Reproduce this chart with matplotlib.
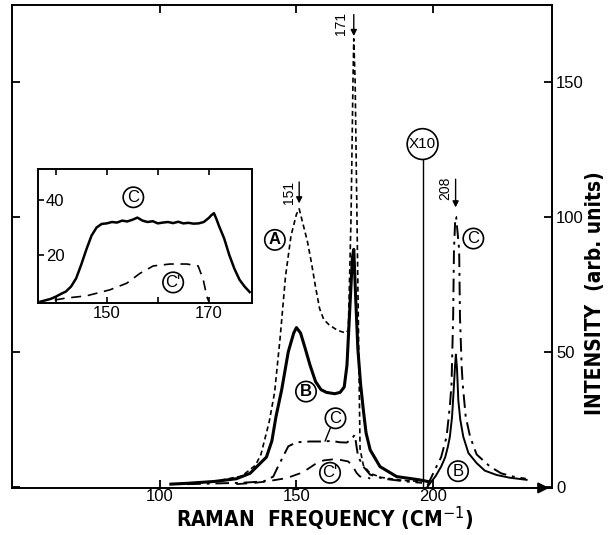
# -*- coding: utf-8 -*-
# Raman spectra A, B, C, C' with x10 region and inset
import matplotlib
matplotlib.use("Agg")
import matplotlib.pyplot as plt
from matplotlib import font_manager as fm

plt.rcParams['font.family'] = ['Liberation Sans', 'DejaVu Sans']

# curve A (dashed), main region
freq_A = [104, 120, 130, 135, 137, 140, 142, 144, 146, 148, 150, 151, 152, 154, 155.5, 157,
          158.5, 160, 162, 165, 168, 169, 170, 170.7, 171, 171.5, 172.3, 173.3, 174.5, 177,
          181, 188, 195]
int_A = [1, 2, 4, 8, 12, 24, 35, 55, 78, 93, 101, 103, 99, 91, 83, 74,
         66, 62, 60, 58, 57, 58, 100, 150, 166, 150, 90, 14, 8, 5,
         3.5, 2.5, 2]

# curve B (solid), main region
freq_B = [104, 110, 120, 128, 133, 136, 139, 141, 142.5, 144.6, 147, 149, 150, 151.5, 153,
          155, 157, 159, 161, 164, 166, 167.5, 168.5, 169.5, 170.5, 171, 171.7, 172.5, 173.5,
          174.5, 175.5, 177, 180.6, 186.7, 195, 198]
int_B = [1, 1.3, 2, 3, 5, 8, 11, 17, 26, 36, 50, 57, 59, 57, 52,
         45, 39, 36, 35, 34.5, 35, 37, 45, 65, 85, 88, 70, 51, 38,
         28.5, 20, 13.7, 7.5, 3.8, 2.6, 2]

# curve B x10 region
freq_B10 = [198, 199, 201, 203, 204.5, 205.5, 206.2, 207, 207.6, 208.1, 208.4, 208.8, 209.3,
            210, 211.1, 213, 216, 219, 223.3, 228, 234.3]
int_B10 = [0, 1.4, 4, 7.5, 11, 15, 18.6, 26, 36, 45, 49, 44, 32,
           25, 18.6, 12.5, 8.8, 6, 4.4, 3.4, 2.6]

# curve C (dash-dot), main region
freq_C = [110, 130, 138, 141.5, 143, 144.5, 145.5, 147, 148, 150, 155, 158.6, 163, 166,
          168.4, 170, 171.4, 172, 172.6, 174.5, 177, 182, 190, 196]
int_C = [1, 1.5, 2, 3.8, 7, 10, 12, 15, 15.5, 16.5, 16.8, 16.8, 17, 16.5,
         16.4, 17.5, 19.3, 15, 11.2, 7.5, 4.5, 3, 2, 1.5]

# curve C x10 region
freq_C10 = [198, 200.7, 203, 205, 206.2, 206.8, 207.4, 207.7, 208.2, 208.5, 209.6, 209.9,
            210.5, 210.9, 212, 213.6, 216, 220.9, 225, 229.4, 234]
int_C10 = [0.5, 6.3, 11, 18.6, 30, 38, 63, 87.8, 100, 100, 87.8, 63,
           45, 38, 26, 18.6, 12, 7.5, 5, 3.8, 3]

# curve C' (dashed), main region
freq_Cp = [128, 135, 139, 145, 148, 151.3, 154, 157.4, 160, 163.5, 166, 169, 170.7, 172,
           173.3, 175.7, 177]
int_Cp = [1, 1.5, 2, 3, 3.8, 5, 6.5, 8.8, 9.8, 10.2, 10, 9.4, 7.5, 5.2,
          3.8, 3.8, 3]

# inset curves
inset_freq_C = [137, 138, 139, 140, 141, 142, 143, 144, 145, 146, 147, 148, 149, 150, 151,
                152, 153, 154, 155, 156, 157, 158, 159, 160, 161, 162, 163, 164, 165, 166,
                167, 168, 169, 170, 170.5, 171, 171.5, 172, 173, 174, 175, 176, 177, 178]
inset_int_C = [3, 3.5, 4, 4.8, 5.8, 6.7, 8.5, 11.5, 16.5, 22, 27, 30, 31.3, 31.5, 32,
               31.8, 32.5, 32.2, 32.8, 33.6, 32.5, 32, 32.3, 31.5, 31.8, 32, 31.6, 32.1, 31.5, 31.7,
               31.4, 31.5, 32, 33.5, 34.5, 35.2, 33, 30.5, 26, 20, 15, 11, 8.5, 6.5]
inset_freq_Cp = [139.8, 142, 146, 150.6, 153.9, 156.5, 159.1, 162.4, 165.7, 167.9, 168.9, 169.6, 170]
inset_int_Cp = [3.6, 4.3, 5.1, 7.3, 9.7, 13.3, 16, 16.7, 16.7, 16, 11, 4.9, 3]

x_ticks = [100, 150, 200]
y_ticks = [0, 50, 100, 150]
inset_x_ticks = [140, 150, 160, 170]
inset_x_labels = ['', '150', '', '170']
inset_y_ticks = [20, 40]

# narrow bold font for axis titles if there is one
cond_path = None
for f in fm.fontManager.ttflist:
    if 'DejaVuSansCondensed-Bold.ttf' in f.fname:
        cond_path = f.fname
if cond_path:
    xlab_prop = fm.FontProperties(fname=cond_path, size=15)
    ylab_prop = fm.FontProperties(fname=cond_path, size=15)
else:
    xlab_prop = fm.FontProperties(family='Liberation Sans', weight='bold', size=15)
    ylab_prop = fm.FontProperties(family='Liberation Sans', weight='bold', size=14)

fig = plt.figure(figsize=(6.11, 5.35), dpi=100)
ax = fig.add_axes([0.0196, 0.088, 0.8838, 0.9025])

ax.plot(freq_A, int_A, color='k', lw=1.2, dashes=(3, 2))
ax.plot(freq_B, int_B, color='k', lw=2.2)
ax.plot(freq_B10, int_B10, color='k', lw=1.4)
ax.plot(freq_C, int_C, color='k', lw=1.4, dashes=(7, 3, 1.5, 3))
ax.plot(freq_C10, int_C10, color='k', lw=1.4, dashes=(7, 3, 1.5, 3))
ax.plot(freq_Cp, int_Cp, color='k', lw=1.3, dashes=(6, 4))

ax.set_xlim(45.8, 243.6)
ax.set_ylim(-0.4, 178.5)
ax.set_xticks(x_ticks)
ax.set_yticks(y_ticks)
ax.tick_params(direction='in', length=6, width=1.3, labelsize=12,
               top=True, right=True, left=True, bottom=True,
               labelleft=False, labelright=True)
ax.tick_params(axis='x', pad=1)
ax.tick_params(axis='y', pad=3)
for s in ax.spines.values():
    s.set_linewidth(1.4)

# arrow at end of x axis
ax.annotate('', xy=(1.0, 0.0), xycoords='axes fraction', xytext=(0.965, 0.0),
            arrowprops=dict(arrowstyle='-|>', color='k', lw=1.4, mutation_scale=16))

# x10 marker
ax.plot([196.2, 196.2], [0, 121], color='k', lw=1.0)
ax.text(196.2, 127, 'X10', ha='center', va='center', fontsize=11,
        bbox=dict(boxstyle='circle,pad=0.12', fc='white', ec='k', lw=1.2))

# circled curve labels
circ = dict(boxstyle='circle,pad=0.16', fc='white', ec='k', lw=1.2)
ax.text(142.1, 91.5, 'A', ha='center', va='center', fontsize=12, weight='bold', bbox=circ)
ax.text(153.5, 35.3, 'B', ha='center', va='center', fontsize=12, weight='bold', bbox=circ)
ax.text(164.3, 25.4, 'C', ha='center', va='center', fontsize=12, bbox=circ)
ax.plot([162.5, 160.5], [22, 17], color='k', lw=1.0)
ax.text(162.3, 5.2, "C'", ha='center', va='center', fontsize=12, bbox=circ)
ax.text(214.8, 92, 'C', ha='center', va='center', fontsize=12, bbox=circ)
ax.text(209.2, 5.8, 'B', ha='center', va='center', fontsize=12, bbox=circ)

# peak arrows
arr = dict(arrowstyle='-|>', color='k', lw=1.0, mutation_scale=9)
ax.annotate('', xy=(151, 104), xytext=(151, 114), arrowprops=arr)
ax.text(147.3, 109, '151', rotation=90, ha='center', va='center', fontsize=10)
ax.annotate('', xy=(171, 166), xytext=(171, 176), arrowprops=arr, annotation_clip=False)
ax.text(166.2, 171.5, '171', rotation=90, ha='center', va='center', fontsize=10)
ax.annotate('', xy=(208.3, 102.5), xytext=(208.3, 115), arrowprops=arr)
ax.text(204.6, 110.5, '208', rotation=90, ha='center', va='center', fontsize=10)

fig.text(325 / 611, 1 - 519 / 535, 'RAMAN  FREQUENCY (CM$^{-1}$)', ha='center', va='center',
         fontproperties=xlab_prop)
fig.text(595 / 611, 1 - 293 / 535, 'INTENSITY  (arb. units)', ha='center', va='center',
         rotation=90, fontproperties=ylab_prop)

# inset
ins = fig.add_axes([0.062, 0.4336, 0.350, 0.2505])
ins.plot(inset_freq_C, inset_int_C, color='k', lw=1.8)
ins.plot(inset_freq_Cp, inset_int_Cp, color='k', lw=1.2, dashes=(6, 4))
ins.set_xlim(136.5, 178.4)
ins.set_ylim(2.5, 51.3)
ins.set_xticks(inset_x_ticks)
ins.set_xticklabels(inset_x_labels)
ins.set_yticks(inset_y_ticks)
ins.tick_params(direction='in', length=4, width=1.2, labelsize=12, top=True)
ins.tick_params(axis='y', pad=-19)
ins.tick_params(axis='x', pad=2)
for s in ins.spines.values():
    s.set_linewidth(1.4)
ins.text(155.2, 41, 'C', ha='center', va='center', fontsize=12, bbox=circ)
ins.text(163, 10, "C'", ha='center', va='center', fontsize=12, bbox=circ)

fig.savefig('out.png', dpi=100)
